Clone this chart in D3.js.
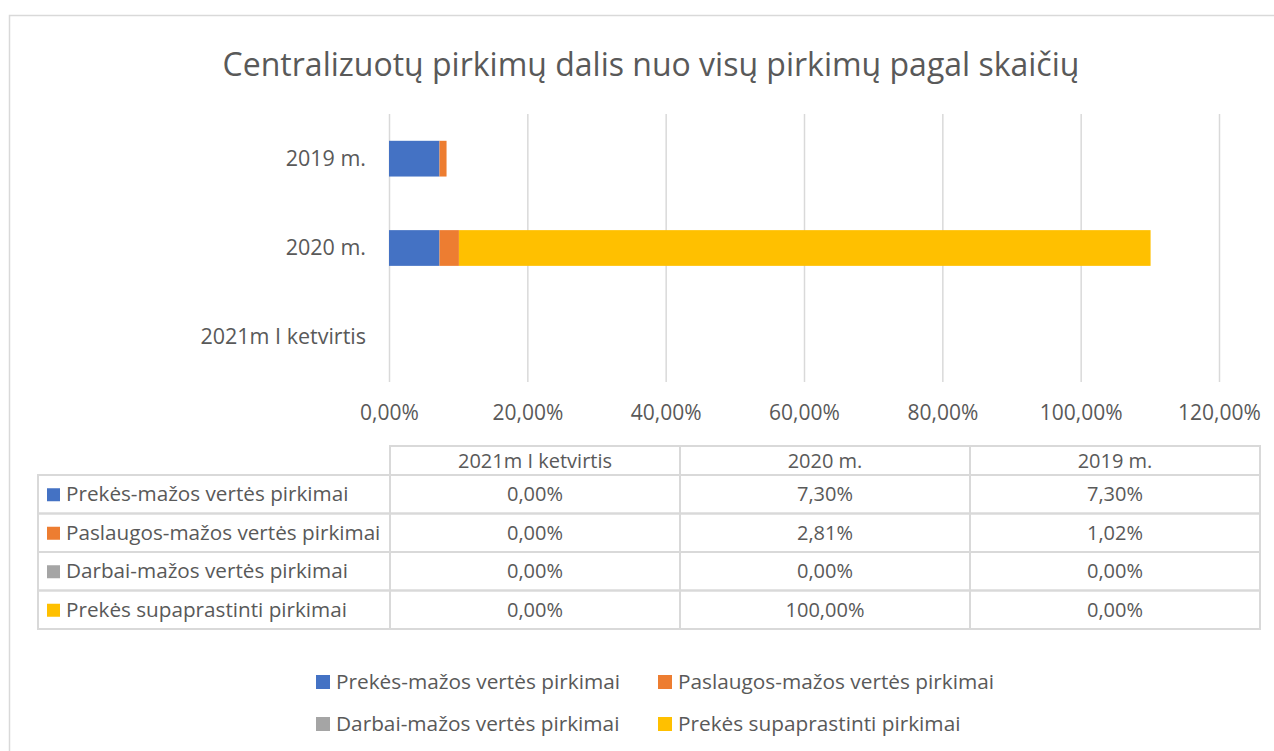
<!DOCTYPE html>
<html>
<head>
<meta charset="utf-8">
<script src="https://cdn.jsdelivr.net/npm/d3@7"></script>
<style>
  body { margin: 0; background: #fff; }
  text { font-family: "Open Sans", sans-serif; fill: #595959; }
</style>
</head>
<body>
<div id="container"></div>
<script>
/* CONSTANTS AND GLOBALS */
const width = 1274,
  height = 751,
  margin = { top: 114, bottom: 369, left: 389, right: 55 }

/* DATA */
const title = "Centralizuotų pirkimų dalis nuo visų pirkimų pagal skaičių"
const categories = ["2019 m.", "2020 m.", "2021m I ketvirtis"]
const seriesNames = ["Prekės-mažos vertės pirkimai", "Paslaugos-mažos vertės pirkimai",
  "Darbai-mažos vertės pirkimai", "Prekės supaprastinti pirkimai"]
const seriesColors = ["#4472C4", "#ED7D31", "#A5A5A5", "#FFC000"]
// values in %, same order as categories
const prekesMazos = [7.30, 7.30, 0.00]
const paslaugosMazos = [1.02, 2.81, 0.00]
const darbaiMazos = [0.00, 0.00, 0.00]
const prekesSupaprastinti = [0.00, 100.00, 0.00]
const xTicks = [0, 20, 40, 60, 80, 100, 120]
const tableColumns = ["2021m I ketvirtis", "2020 m.", "2019 m."]

const seriesValues = [prekesMazos, paslaugosMazos, darbaiMazos, prekesSupaprastinti]
const rows = categories.map((c, i) => {
  const r = { category: c }
  seriesNames.forEach((s, j) => r[s] = seriesValues[j][i])
  return r
})

const lt = d3.formatLocale({ decimal: ",", thousands: " ", grouping: [3], currency: ["", "€"] })
const pct = v => lt.format(".2f")(v) + "%"

/* SVG */
const svg = d3.select("#container")
  .append("svg")
  .attr("width", width)
  .attr("height", height)

// chart border
svg.append("rect")
  .attr("x", 9.5).attr("y", 15.5)
  .attr("width", 1300).attr("height", 800)
  .attr("fill", "none")
  .attr("stroke", "#d9d9d9")
  .attr("stroke-width", 1.5)

svg.append("text")
  .attr("x", 651)
  .attr("y", 76)
  .attr("text-anchor", "middle")
  .style("font-size", "32px")
  .text(title)

/* SCALES */
const xScale = d3.scaleLinear()
  .domain([0, 120])
  .range([margin.left, 1219])

const yScale = d3.scaleBand()
  .domain(categories)
  .range([margin.top, 382])
  .paddingInner(0.6)
  .paddingOuter(0.3)

/* AXES */
const xAxis = svg.append("g")
  .attr("transform", `translate(0, ${margin.top})`)
  .call(d3.axisBottom(xScale).tickValues(xTicks).tickSize(382 - margin.top).tickFormat(pct))
xAxis.select(".domain").remove()
xAxis.selectAll("line").attr("stroke", "#d9d9d9").attr("stroke-width", 1.5)
xAxis.selectAll("text")
  .attr("dy", null)
  .attr("y", 382 - margin.top + 38)
  .style("font-size", "21px")
  .attr("font-family", null)

const yAxis = svg.append("g")
  .attr("transform", `translate(${margin.left}, 0)`)
  .call(d3.axisLeft(yScale).tickSize(0).tickPadding(23))
yAxis.select(".domain").remove()
yAxis.selectAll("text")
  .style("font-size", "21.5px")
  .attr("font-family", null)

/* BARS */
const stack = d3.stack().keys(seriesNames)(rows)

svg.selectAll(".series")
  .data(stack)
  .join("g")
  .attr("class", "series")
  .attr("fill", (d, i) => seriesColors[i])
  .selectAll("rect")
  .data(d => d)
  .join("rect")
  .attr("x", d => xScale(d[0]))
  .attr("y", d => yScale(d.data.category))
  .attr("width", d => xScale(d[1]) - xScale(d[0]))
  .attr("height", yScale.bandwidth())

/* DATA TABLE */
const tLeft = 38, tLabelRight = 390, colW = 290
const headTop = 446, rowTop = 475, rowH = 38.5
const tableCol = d3.scaleBand().domain(tableColumns).range([tLabelRight, tLabelRight + colW * 3])
const tableRow = d3.scaleBand().domain(seriesNames).range([rowTop, rowTop + rowH * 4])

const table = svg.append("g")
const gridColor = "#d9d9d9"

// header row cells
table.selectAll(".hcell")
  .data(tableColumns)
  .join("rect")
  .attr("x", d => tableCol(d))
  .attr("y", headTop)
  .attr("width", tableCol.bandwidth())
  .attr("height", rowTop - headTop)
  .attr("fill", "none").attr("stroke", gridColor).attr("stroke-width", 2)

table.selectAll(".htext")
  .data(tableColumns)
  .join("text")
  .attr("x", d => tableCol(d) + tableCol.bandwidth() / 2)
  .attr("y", (headTop + rowTop) / 2 + 7)
  .attr("text-anchor", "middle")
  .style("font-size", "20px")
  .text(d => d)

seriesNames.forEach((s, j) => {
  const y = tableRow(s)
  table.append("rect")
    .attr("x", tLeft).attr("y", y)
    .attr("width", tLabelRight - tLeft).attr("height", tableRow.bandwidth())
    .attr("fill", "none").attr("stroke", gridColor).attr("stroke-width", 2)
  table.append("rect")
    .attr("x", 47).attr("y", y + tableRow.bandwidth() / 2 - 6)
    .attr("width", 13).attr("height", 13)
    .attr("fill", seriesColors[j])
  table.append("text")
    .attr("x", 66).attr("y", y + tableRow.bandwidth() / 2 + 7)
    .style("font-size", "20.7px")
    .text(s)
  tableColumns.forEach(c => {
    const v = seriesValues[j][categories.indexOf(c)]
    table.append("rect")
      .attr("x", tableCol(c)).attr("y", y)
      .attr("width", tableCol.bandwidth()).attr("height", tableRow.bandwidth())
      .attr("fill", "none").attr("stroke", gridColor).attr("stroke-width", 2)
    table.append("text")
      .attr("x", tableCol(c) + tableCol.bandwidth() / 2)
      .attr("y", y + tableRow.bandwidth() / 2 + 7)
      .attr("text-anchor", "middle")
      .style("font-size", "20px")
      .text(pct(v))
  })
})

/* LEGEND */
const legendX = [316, 658], legendY = [682, 724]
const legend = svg.append("g")
  .selectAll("g")
  .data(seriesNames)
  .join("g")
  .attr("transform", (d, i) => `translate(${legendX[i % 2]}, ${legendY[Math.floor(i / 2)]})`)

legend.append("rect")
  .attr("x", 0).attr("y", -7)
  .attr("width", 14).attr("height", 14)
  .attr("fill", (d, i) => seriesColors[i])

legend.append("text")
  .attr("x", 20).attr("y", 7)
  .style("font-size", "20.8px")
  .text(d => d)
</script>
</body>
</html>
